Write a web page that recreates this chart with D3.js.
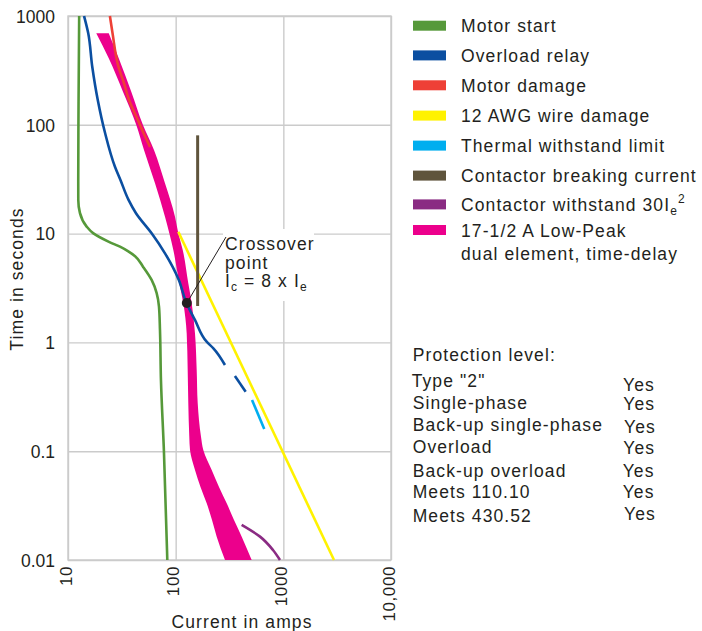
<!DOCTYPE html>
<html><head><meta charset="utf-8">
<script src="https://cdn.jsdelivr.net/npm/d3@7"></script>
<style>
body{margin:0;background:#fff}
svg{display:block}
text{font-family:"Liberation Sans",Arial,Helvetica,sans-serif;fill:#231f20}
</style>
</head><body>
<svg id="c" width="702" height="631"></svg>
<script>
// ---------- data (current in amps, time in seconds) ----------
const xTicks = [10, 100, 1000, 10000];
const xTickLabels = ["10", "100", "1000", "10,000"];
const yTicks = [1000, 100, 10, 1, 0.1, 0.01];
const yTickLabels = ["1000", "100", "10", "1", "0.1", "0.01"];

const motorStart = [[12.7,1000],[12.5,100],[12.45,30],[12.46,20.4],[12.9,15.5],[14.9,11.6],[17.1,10.1],[24.0,8.4],[30.4,7.58],[36.0,6.9],[42.0,6.2],[49.7,4.97],[59.8,3.75],[66.6,2.84],[70.0,2.13],[71.5,1.30],[73.0,0.451],[77.8,0.1],[83.6,0.01]];
const overloadRelay = [[14.1,1000],[15.4,698],[16.8,342],[18.9,169],[22.1,84],[27.3,41.2],[30.7,31.1],[36.5,20.4],[42.8,15.4],[59.8,10.07],[79.6,6.59],[107,3.75],[126,2.3],[151,1.61],[194,1.015],[224,0.883],[287,0.62]];
const overloadRelayDash = [[355,0.491],[447,0.352]];
const motorDamage = [[24.5,1000],[25.9,698],[29.4,342],[33.1,242],[36.9,169],[43.7,115.5],[50.3,84.1],[57.8,62.5]];
const wireDamage = [[105.8,10.4],[2955,0.01]];
const thermalLimit = [[512,0.296],[665,0.16]];
const contactorBreaking = [[160,80],[160,2.16]];
const contactorWithstand = [[410,0.021],[607,0.0164],[801,0.01236],[931,0.01]];
const fuseTimes = [693,408,201,99.6,58.7,29.0,14.3,10.07,7.07,3.49,2.29,1.21,0.557,0.2773,0.1359,0.1025,0.0672,0.0469,0.0332,0.0233,0.01638,0.01];
const fuseMin = [18.3,23.9,32.4,43.1,50.8,64.3,79.6,87.3,95.1,108.1,117.8,126.6,129.3,131.0,133.8,135.9,151.2,170.1,194.2,217.5,240.5,287.2];
const fuseMax = [23.9,29.6,38.7,49.7,62.9,79.6,98.6,105.8,116.3,131.0,140.9,151.2,156.8,160.2,171.9,180.6,216.1,252.6,297.8,348.2,410.6,508.3];
const crossover = [127, 2.3];

const legendLabels = ["Motor start","Overload relay","Motor damage","12 AWG wire damage","Thermal withstand limit","Contactor breaking current","Contactor withstand 30I","17-1/2 A Low-Peak"];
const legendColors = ["#56993a","#0b4fa1","#ee4036","#fff200","#00aeef","#5f543c","#8a2b83","#ec008c"];
const protectionLabels = ["Type \"2\"","Single-phase","Back-up single-phase","Overload","Back-up overload","Meets 110.10","Meets 430.52"];
const protectionValues = ["Yes","Yes","Yes","Yes","Yes","Yes","Yes"];

// ---------- layout ----------
const svg = d3.select("#c");
const L = 68, R = 391, T = 16, B = 560;
const x = d3.scaleLog().domain([10, 10000]).range([L, R]);
const y = d3.scaleLog().domain([0.01, 1000]).range([B, T]);
const FS = "17.5px", LS = "1.1px";
const gridCol = "#cbcbcb";

// axes / grid
const gx = svg.append("g").attr("transform", `translate(0,${B})`)
  .call(d3.axisBottom(x).tickValues(xTicks).tickSize(-(B - T)).tickPadding(6)
    .tickFormat((d, i) => xTickLabels[i]));
gx.select(".domain").remove();
gx.selectAll(".tick line").attr("stroke", gridCol).attr("stroke-width", 1.4);
gx.selectAll(".tick text").attr("transform", "rotate(-90)").attr("x", -6).attr("y", 0)
  .attr("dy", "3px").style("text-anchor", "end").style("font-size", "17px").style("letter-spacing", "0.6px")
  .attr("fill", "#231f20");

const gy = svg.append("g").attr("transform", `translate(${L},0)`)
  .call(d3.axisLeft(y).tickValues(yTicks).tickSize(-(R - L)).tickPadding(13)
    .tickFormat((d, i) => yTickLabels[i]));
gy.select(".domain").remove();
gy.selectAll(".tick line").attr("stroke", gridCol).attr("stroke-width", 1.4);
gy.selectAll(".tick text").style("font-size", FS).attr("fill", "#231f20").attr("dy", "0.36em");

svg.append("rect").attr("x", L).attr("y", T).attr("width", R - L).attr("height", B - T)
  .attr("fill", "none").attr("stroke", gridCol).attr("stroke-width", 1.4);

// axis titles
svg.append("text").attr("x", 242).attr("y", 628).attr("text-anchor", "middle")
  .style("font-size", FS).style("letter-spacing", LS).text("Current in amps");
svg.append("text").attr("transform", "translate(23,279) rotate(-90)").attr("text-anchor", "middle")
  .style("font-size", FS).style("letter-spacing", LS).text("Time in seconds");

// ---------- curves ----------
const line = d3.line().x(d => x(d[0])).y(d => y(d[1])).curve(d3.curveMonotoneY);
const fuseData = fuseTimes.map((t, i) => ({t, lo: fuseMin[i], hi: fuseMax[i]}));
const area = d3.area().y(d => y(d.t)).x0(d => x(d.lo)).x1(d => x(d.hi)).curve(d3.curveMonotoneY);

function drawLine(data, color, w) {
  svg.append("path").datum(data).attr("d", line).attr("fill", "none")
    .attr("stroke", color).attr("stroke-width", w).attr("stroke-linecap", "butt");
}
drawLine(motorStart, legendColors[0], 2.6);
svg.append("path").datum(fuseData).attr("d", area).attr("fill", legendColors[7]);
drawLine(wireDamage, legendColors[3], 2.6);
drawLine(contactorBreaking, legendColors[5], 3);
drawLine(overloadRelay, legendColors[1], 2.6);
drawLine(overloadRelayDash, legendColors[1], 2.6);
drawLine(motorDamage, legendColors[2], 2.6);
drawLine(thermalLimit, legendColors[4], 2.6);
drawLine(contactorWithstand, legendColors[6], 2.6);

// ---------- annotation ----------
svg.append("rect").attr("x", 223).attr("y", 229).attr("width", 91).attr("height", 72).attr("fill", "#fff");
svg.append("line").attr("x1", x(crossover[0])).attr("y1", y(crossover[1])).attr("x2", 226).attr("y2", 237)
  .attr("stroke", "#231f20").attr("stroke-width", 1);
svg.append("circle").attr("cx", x(crossover[0])).attr("cy", y(crossover[1])).attr("r", 5).attr("fill", "#231f20");
const ann = svg.append("g").style("font-size", FS).style("letter-spacing", LS);
ann.append("text").attr("x", 225).attr("y", 250).text("Crossover");
ann.append("text").attr("x", 225).attr("y", 268.5).text("point");
const ic = ann.append("text").attr("x", 225).attr("y", 287);
ic.append("tspan").text("I");
ic.append("tspan").attr("dy", 4).style("font-size", "12px").text("c");
ic.append("tspan").attr("dy", -4).text(" = 8 x I");
ic.append("tspan").attr("dy", 4).style("font-size", "12px").text("e");

// ---------- legend ----------
const legY = [25.7, 55.4, 85.3, 115.6, 145.6, 175.6, 204.4, 230];
const lg = svg.append("g");
legendLabels.forEach((lab, i) => {
  lg.append("rect").attr("x", 413).attr("y", legY[i] - 5).attr("width", 33).attr("height", 10).attr("fill", legendColors[i]);
  const t = lg.append("text").attr("x", 461).attr("y", legY[i] + 6.6).style("font-size", FS).style("letter-spacing", LS).text(lab);
  if (i === 6) {
    t.append("tspan").attr("dy", 4).style("font-size", "12px").text("e");
    t.append("tspan").attr("dy", -12).style("font-size", "12px").text("2");
  }
  if (i === 7) {
    lg.append("text").attr("x", 461).attr("y", legY[i] + 30).style("font-size", FS).style("letter-spacing", LS).text("dual element, time-delay");
  }
});

// ---------- protection table ----------
svg.append("text").attr("x", 412.7).attr("y", 360.7).style("font-size", FS).style("letter-spacing", LS).text("Protection level:");
const labY = [386.7, 409, 430.7, 453.3, 476.7, 498.3, 521.7];
const yesY = [391, 409.5, 433.3, 454, 477.3, 498.3, 520];
const yesX = [623, 623.3, 624, 623.3, 622.7, 622.7, 624];
protectionLabels.forEach((lab, i) => {
  svg.append("text").attr("x", i === 0 ? 411.7 : 412.7).attr("y", labY[i]).style("font-size", FS).style("letter-spacing", LS).text(lab);
  svg.append("text").attr("x", yesX[i]).attr("y", yesY[i]).style("font-size", FS).style("letter-spacing", LS).text(protectionValues[i]);
});
</script>
</body></html>
